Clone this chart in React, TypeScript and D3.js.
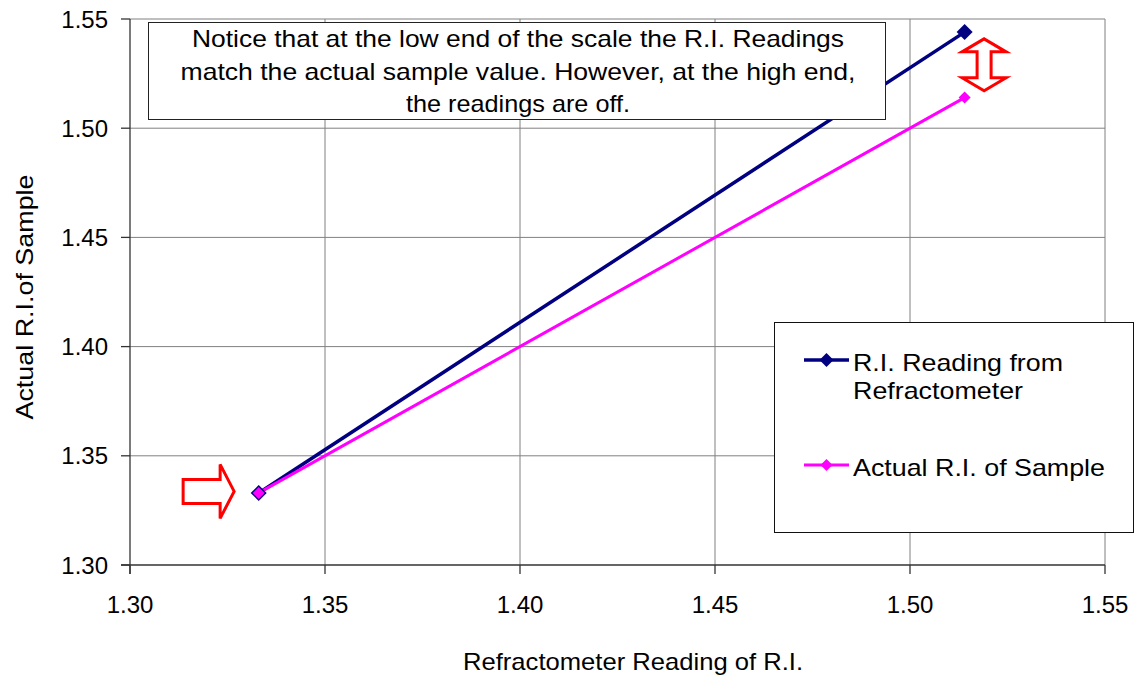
import React from "react";
import { scaleLinear, line as d3_line } from "d3";

const readingX = [1.333, 1.514];
const readingY = [1.333, 1.544];
const actualX = [1.333, 1.514];
const actualY = [1.333, 1.514];

const xTicks = [1.3, 1.35, 1.4, 1.45, 1.5, 1.55];
const yTicks = [1.3, 1.35, 1.4, 1.45, 1.5, 1.55];

const seriesNames = ["R.I. Reading from", "Refractometer"];
const seriesName2 = "Actual R.I. of Sample";
const noteLines = [
    "Notice that at the low end of the scale the R.I. Readings",
    "match the actual sample value. However, at the high end,",
    "the readings are off.",
];
const noteWidths = [652, 675, 224];

const NAVY = "#000080";
const MAGENTA = "#FF00FF";
const FONT = "'Liberation Sans', Arial, sans-serif";

const W = 1135;
const H = 676;
const margin = { top: 19, right: 30, bottom: 111, left: 130 };

const diamond = (cx: number, cy: number, r: number) =>
    `M${cx},${cy - r}L${cx + r},${cy}L${cx},${cy + r}L${cx - r},${cy}Z`;

export default function App() {
    const xScale = scaleLinear().domain([1.3, 1.55]).range([margin.left, W - margin.right]);
    const yScale = scaleLinear().domain([1.3, 1.55]).range([H - margin.bottom, margin.top]);

    const line = d3_line<[number, number]>()
        .x((d) => xScale(d[0]))
        .y((d) => yScale(d[1]));

    const reading = readingX.map((x, i) => [x, readingY[i]] as [number, number]);
    const actual = actualX.map((x, i) => [x, actualY[i]] as [number, number]);

    const x0 = xScale(1.3);
    const x1 = xScale(1.55);
    const y0 = yScale(1.3);
    const y1 = yScale(1.55);

    // right-pointing block arrow near the low end
    const ax = xScale(1.3267);
    const ay = yScale(1.3337);
    const rightArrow = `M${ax - 51},${ay - 12}L${ax - 14},${ay - 12}L${ax - 14},${ay - 27}L${ax},${ay}L${ax - 14},${ay + 27}L${ax - 14},${ay + 12}L${ax - 51},${ay + 12}Z`;

    // up-down arrow between the two high points
    const bx = xScale(1.519);
    const by = yScale(1.529);
    const upDown = `M${bx},${by - 26}L${bx + 22},${by - 13}L${bx + 7},${by - 13}L${bx + 7},${by + 13}L${bx + 22},${by + 13}L${bx},${by + 26}L${bx - 22},${by + 13}L${bx - 7},${by + 13}L${bx - 7},${by - 13}L${bx - 22},${by - 13}Z`;

    return (
        <svg
            width={W}
            height={H}
            style={{ position: "absolute", left: 0, top: 0, background: "#fff" }}
            fontFamily={FONT}
        >
            {/* grid */}
            {xTicks.slice(1).map((t, i) => (
                <line key={"gx" + i} x1={xScale(t)} x2={xScale(t)} y1={y1} y2={y0} stroke="#808080" strokeWidth={1} />
            ))}
            {yTicks.slice(1).map((t, i) => (
                <line key={"gy" + i} x1={x0} x2={x1} y1={yScale(t)} y2={yScale(t)} stroke="#808080" strokeWidth={1} />
            ))}

            {/* axes */}
            <line x1={x0} x2={x0} y1={y1} y2={y0 + 9} stroke="#333" strokeWidth={1.3} />
            <line x1={x0 - 9} x2={x1} y1={y0} y2={y0} stroke="#333" strokeWidth={1.3} />
            {yTicks.map((t, i) => (
                <g key={"yt" + i}>
                    <line x1={x0 - 9} x2={x0} y1={yScale(t)} y2={yScale(t)} stroke="#333" strokeWidth={1.3} />
                    <text x={108} y={yScale(t)} dy="0.36em" textAnchor="end" fontSize={24}>
                        {t.toFixed(2)}
                    </text>
                </g>
            ))}
            {xTicks.map((t, i) => (
                <g key={"xt" + i}>
                    <line x1={xScale(t)} x2={xScale(t)} y1={y0} y2={y0 + 9} stroke="#333" strokeWidth={1.3} />
                    <text x={xScale(t)} y={613} textAnchor="middle" fontSize={24}>
                        {t.toFixed(2)}
                    </text>
                </g>
            ))}

            {/* axis titles */}
            <text x={633} y={670} textAnchor="middle" fontSize={24} textLength={340} lengthAdjust="spacingAndGlyphs">
                Refractometer Reading of R.I.
            </text>
            <text transform="translate(33,297) rotate(-90)" textAnchor="middle" fontSize={24} textLength={245} lengthAdjust="spacingAndGlyphs">
                Actual R.I.of Sample
            </text>

            {/* series */}
            <path d={line(reading) ?? ""} fill="none" stroke={NAVY} strokeWidth={3.5} />
            <path d={line(actual) ?? ""} fill="none" stroke={MAGENTA} strokeWidth={3} />
            {reading.map((d, i) => (
                <path key={"rm" + i} d={diamond(xScale(d[0]), yScale(d[1]), 8)} fill={NAVY} />
            ))}
            {actual.map((d, i) => (
                <path key={"am" + i} d={diamond(xScale(d[0]), yScale(d[1]), 6)} fill={MAGENTA} />
            ))}

            {/* annotation arrows */}
            <path d={rightArrow} fill="#fff" stroke="#FF0000" strokeWidth={3} strokeLinejoin="miter" />
            <path d={upDown} fill="#fff" stroke="#FF0000" strokeWidth={3} strokeLinejoin="miter" />

            {/* note box */}
            <rect x={148.5} y={22.5} width={737} height={97} fill="#fff" stroke="#222" strokeWidth={1} />
            {noteLines.map((s, i) => (
                <text
                    key={"n" + i}
                    x={518}
                    y={47 + i * 32.5}
                    textAnchor="middle"
                    fontSize={24}
                    textLength={noteWidths[i]}
                    lengthAdjust="spacingAndGlyphs"
                >
                    {s}
                </text>
            ))}

            {/* legend */}
            <rect x={774.5} y={322.5} width={359} height={210} fill="#fff" stroke="#111" strokeWidth={1} />
            <line x1={804} x2={849} y1={360} y2={360} stroke={NAVY} strokeWidth={3.5} />
            <path d={diamond(826.5, 360, 7)} fill={NAVY} />
            <text x={853} y={371} fontSize={24} textLength={210} lengthAdjust="spacingAndGlyphs">
                {seriesNames[0]}
            </text>
            <text x={853} y={399} fontSize={24} textLength={170} lengthAdjust="spacingAndGlyphs">
                {seriesNames[1]}
            </text>
            <line x1={804} x2={849} y1={465} y2={465} stroke={MAGENTA} strokeWidth={3} />
            <path d={diamond(826.5, 465, 6)} fill={MAGENTA} />
            <text x={853} y={476} fontSize={24} textLength={252} lengthAdjust="spacingAndGlyphs">
                {seriesName2}
            </text>
        </svg>
    );
}
